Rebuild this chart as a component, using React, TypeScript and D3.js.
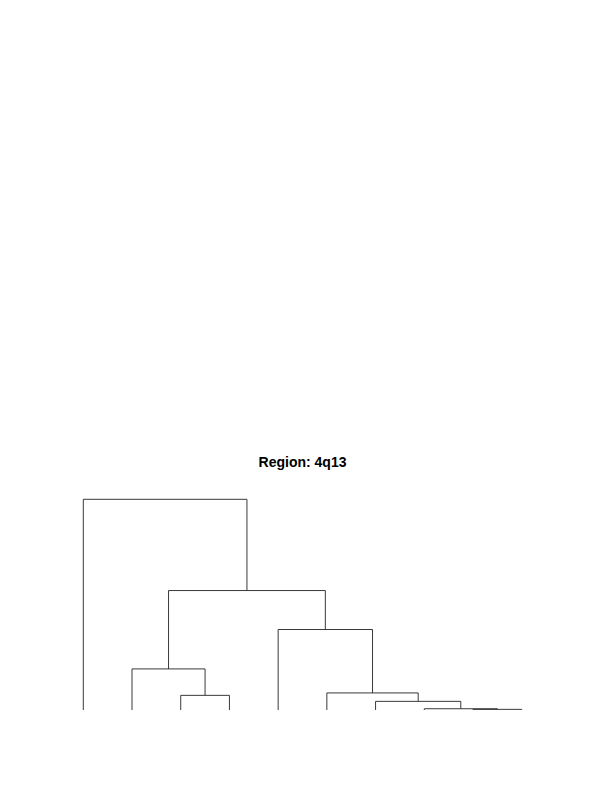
import { useMemo } from "react";
import { hierarchy, scaleLinear, scalePoint, HierarchyNode } from "d3";

// hclust-style merges: negative = leaf index (1-based), positive = earlier merge step
const mergeLeft = [-9, -8, -7, -3, -6, -2, -5, 6, -1];
const mergeRight = [-10, 1, 2, -4, 3, 4, 5, 7, 8];
const mergeHeight = [0.003, 0.006, 0.041, 0.0695, 0.081, 0.195, 0.382, 0.567, 1.0];
const title = "Region: 4q13";

interface TreeNode {
    id: string;
    height: number;
    children?: TreeNode[];
}

function buildTree(): TreeNode {
    const make = (ref: number): TreeNode => {
        if (ref < 0) return { id: `leaf${-ref}`, height: 0 };
        const i = ref - 1;
        return {
            id: `node${ref}`,
            height: mergeHeight[i],
            children: [make(mergeLeft[i]), make(mergeRight[i])],
        };
    };
    return make(mergeLeft.length);
}

export default function App() {
    const width = 612;
    const height = 792;
    const left = 83.3;
    const right = 521.7;
    const base = 710;
    const top = 499.3;

    const links = useMemo(() => {
        const root = hierarchy<TreeNode>(buildTree());
        const leaves = root.leaves();
        const x = scalePoint<string>()
            .domain(leaves.map((d) => d.data.id))
            .range([left, right]);
        const y = scaleLinear().domain([0, 1]).range([base, top]);

        const xPos = new Map<HierarchyNode<TreeNode>, number>();
        root.eachAfter((node) => {
            if (!node.children) xPos.set(node, x(node.data.id) ?? 0);
            else xPos.set(node, (xPos.get(node.children[0])! + xPos.get(node.children[1])!) / 2);
        });

        const paths: string[] = [];
        root.each((node) => {
            if (!node.children) return;
            const [a, b] = node.children;
            paths.push(
                `M${xPos.get(a)},${y(a.data.height)}V${y(node.data.height)}H${xPos.get(b)}V${y(b.data.height)}`
            );
        });
        return paths;
    }, []);

    return (
        <svg
            width={width}
            height={height}
            style={{ position: "absolute", left: 0, top: 0, background: "#fff" }}
        >
            <text
                x={302.5}
                y={467}
                textAnchor="middle"
                fontFamily="Liberation Sans, Arial, sans-serif"
                fontWeight="bold"
                fontSize={14}
                fill="#000"
            >
                {title}
            </text>
            <g fill="none" stroke="#222" strokeWidth={0.9}>
                {links.map((d, i) => (
                    <path key={i} d={d} />
                ))}
            </g>
        </svg>
    );
}
